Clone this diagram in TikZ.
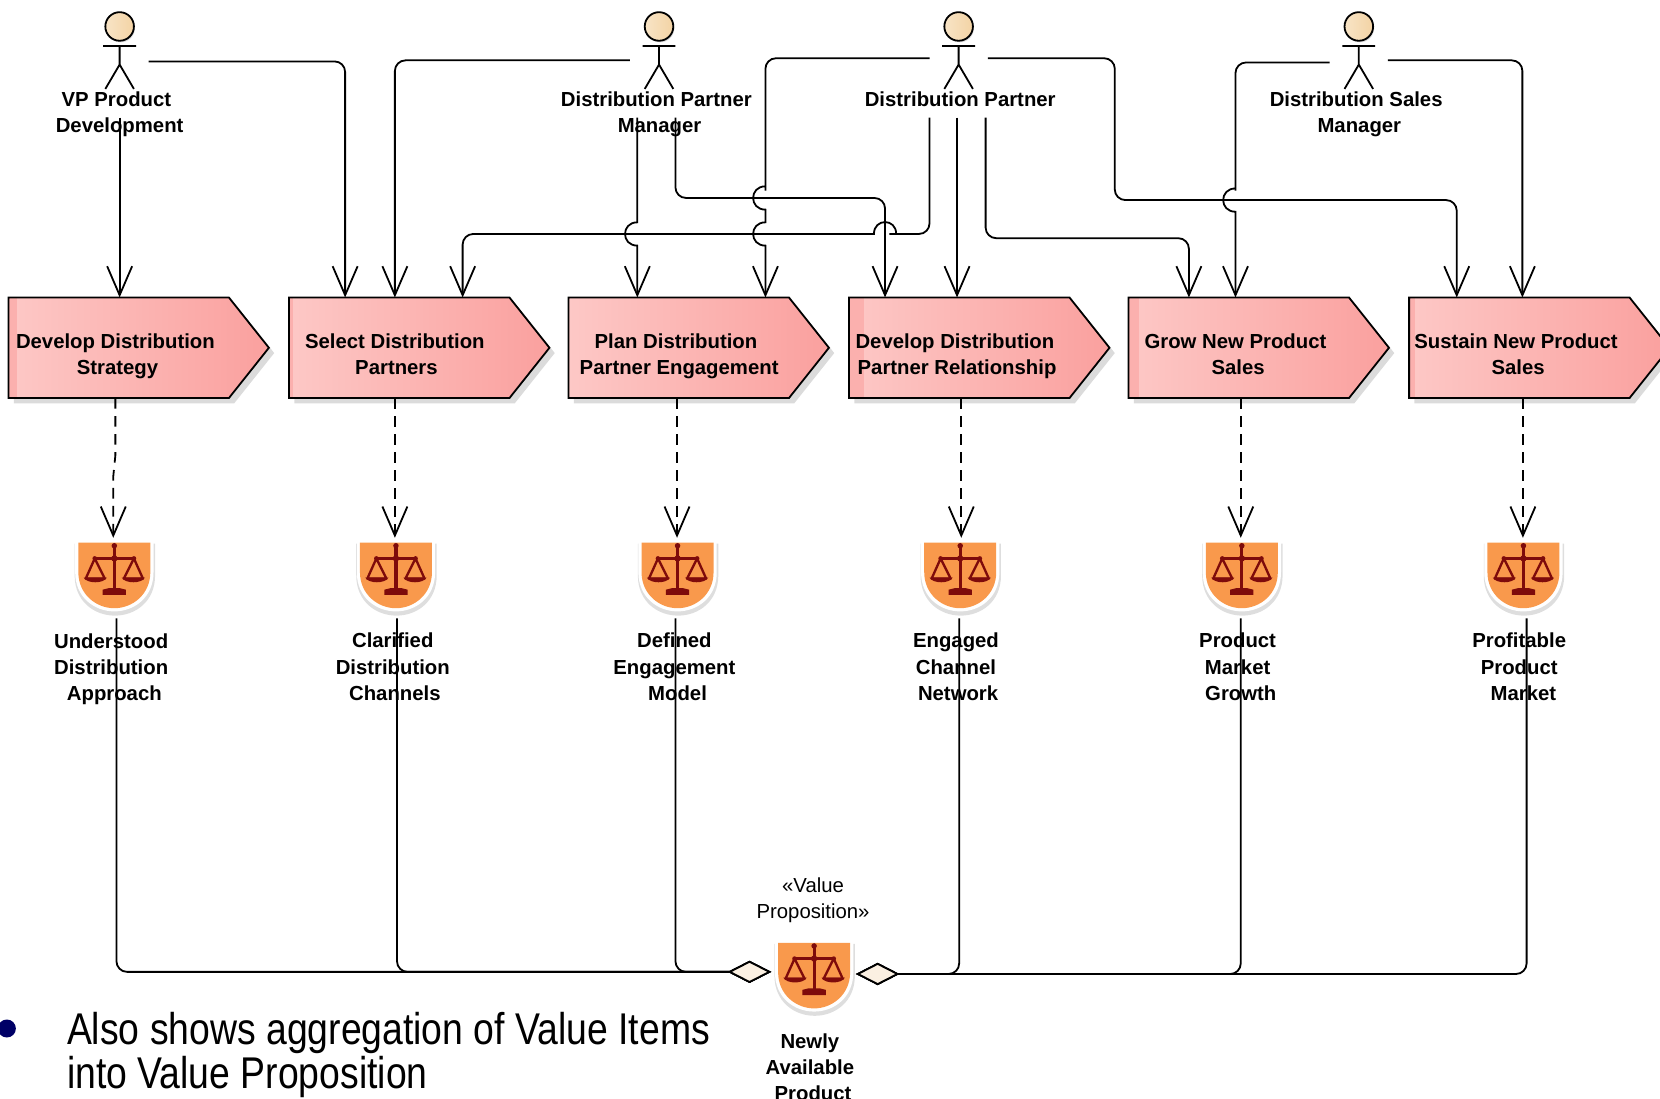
\documentclass[tikz,border=0pt]{standalone}
\usepackage{fontspec}
\setmainfont{Liberation Sans}
\usetikzlibrary{arrows.meta,shapes.symbols,shadows}
\definecolor{chevlight}{HTML}{FDC8C6}
\definecolor{chevdark}{HTML}{FAA09E}
\definecolor{chevstrip}{HTML}{FBB0AE}
\definecolor{scalered}{HTML}{7E0B0B}
\definecolor{shieldorange}{HTML}{F9994C}
\definecolor{diamondfill}{HTML}{FBF0E2}
\definecolor{headlight}{HTML}{F8E4C6}
\definecolor{headdark}{HTML}{F3D3A4}
\newcommand{\boldtext}{\fontsize{9.6}{12.4}\selectfont\bfseries}
\newcommand{\hopv}[2]{[sharp corners] -- (#1,#2-11) .. controls (#1-15.5,#2-11) and (#1-15.5,#2+11) .. (#1,#2+11)}
\newcommand{\hoph}[2]{[sharp corners] -- (#1+10.5,#2) .. controls (#1+10.5,#2-15) and (#1-10.5,#2-15) .. (#1-10.5,#2)}
\newcommand{\shieldpath}[3]{(-#1,-#2) -- (#1,-#2) -- (#1,-3) .. controls (#1,#3-13) and (#1/2,#3) .. (0,#3) .. controls (-#1/2,#3) and (-#1,#3-13) .. (-#1,-3) -- cycle}
\tikzset{
	stick/.pic={
		\fill[black!15] (1,-28.5) circle[radius=13.5];
		\draw[line width=.85pt] (0,-12) -- (0,6) (-15.5,-11.5) -- (15.5,-11.5) (-13.5,29) -- (0,6) -- (13.5,29);
		\draw[line width=.85pt,left color=headlight,right color=headdark] (0,-30) circle[radius=13.5];
	},
	scales/.pic={
		\fill[black!13] [shift={(.5,3)}] \shieldpath{38}{33}{35};
		\fill[white] \shieldpath{37}{34}{34};
		\fill[shieldorange] \shieldpath{34}{31}{31};
		\draw[scalered,line width=1.5pt] (0,-28) -- (0,15);
		\draw[scalered,line width=1.2pt] (-18.5,-16) -- (18.5,-16);
		\draw[scalered,line width=1.1pt,line join=round] (-18.5,-16) -- (-27,3) -- (-9,3) -- cycle (18.5,-16) -- (9,3) -- (27,3) -- cycle;
		\fill[scalered] (-29,2) -- (-7,2) .. controls (-10,8) and (-26,8) .. (-29,2) (7,2) -- (29,2) .. controls (26,8) and (10,8) .. (7,2);
		\fill[scalered] (-11,13.5) -- (-5,12) -- (5,12) -- (11,13.5) -- (11,18.5) -- (-11,18.5) -- cycle (0,-28) circle[radius=2.6] (0,-16) circle[radius=3] (-18.5,-16) circle[radius=2.2] (18.5,-16) circle[radius=2.2];
	}
}
\begin{document}
\begin{tikzpicture}[x=0.5pt,y=-0.5pt,
	chevron/.style={signal,signal to=east,signal pointer angle=103,draw,line width=.85pt,minimum width=123pt,minimum height=47.5pt,inner sep=0pt,outer sep=0pt,anchor=north west,left color=chevlight,right color=chevdark,drop shadow={shadow xshift=2.5pt,shadow yshift=-2.5pt,fill=black!14,opacity=1},path picture={\fill[chevstrip] (path picture bounding box.north west) rectangle ([xshift=#1pt]path picture bounding box.south west);}},
	actor/.style={minimum width=27.5pt,minimum height=56pt,inner sep=0pt,outer sep=0pt},
	value/.style={minimum width=41pt,minimum height=38pt,inner sep=0pt,outer sep=0pt},
	boldlabel/.style={align=center,font=\boldtext,inner sep=0pt},
	flow/.style={-{Straight Barb[length=13.7pt,width=11.8pt]},line width=.85pt,rounded corners=5pt},
	realize/.style={flow,dashed,dash pattern=on 5pt off 3.5pt},
	aggr/.style={-{Diamond[length=20.5pt,width=10.5pt,fill=diamondfill]},line width=.85pt,rounded corners=5pt}]
	\useasboundingbox (0,0) rectangle (1568,1038);

	\node[chevron=4.2] (s1) at (8,281) {};
	\node[chevron=2] (s2) at (273,281) {};
	\node[chevron=0] (s3) at (537,281) {};
	\node[chevron=7] (s4) at (802,281) {};
	\node[chevron=4.7] (s5) at (1066,281) {};
	\node[chevron=3] (s6) at (1331,281) {};
	\node[boldlabel] (c1) at (111,336.5) {Develop Distribution\hspace*{2pt}\\Strategy};
	\node[boldlabel] (c2) at (374.5,334.5) {Select Distribution\hspace*{1.5pt}\\Partners};
	\node[boldlabel] (c3) at (641.5,336.5) {Plan Distribution\hspace*{3pt}\\Partner Engagement};
	\node[boldlabel] (c4) at (904,336.5) {Develop Distribution\hspace*{2pt}\\Partner Relationship};
	\node[boldlabel] (c5) at (1169.5,334.5) {Grow New Product\hspace*{2.5pt}\\Sales};
	\node[boldlabel] (c6) at (1434,334.5) {Sustain New Product\hspace*{2pt}\\Sales};

	\node[actor] (a1) at (113,55) {};
	\node[actor] (a2) at (622.5,55) {};
	\node[actor] (a3) at (905.5,55) {};
	\node[actor] (a4) at (1283.5,55) {};
	\pic at (a1) {stick};
	\pic at (a2) {stick};
	\pic at (a3) {stick};
	\pic at (a4) {stick};
	\node[boldlabel] (t1) at (113,108) {VP Product\hspace*{3pt}\\Development};
	\node[boldlabel] (t2) at (620,108) {Distribution Partner\\\hspace*{3pt}Manager};
	\node[boldlabel] (t3) at (907,94) {Distribution Partner};
	\node[boldlabel] (t4) at (1281,108) {Distribution Sales\\\hspace*{3pt}Manager};

	\node[value] (v1) at (108,546) {};
	\node[value] (v2) at (374,546) {};
	\node[value] (v3) at (640,546) {};
	\node[value] (v4) at (907,546) {};
	\node[value] (v5) at (1173,546) {};
	\node[value] (v6) at (1439,546) {};
	\node[value,minimum width=40pt] (vp) at (768.5,924) {};
	\pic at (108,543.5) {scales};
	\pic at (374,543.5) {scales};
	\pic at (640,543.5) {scales};
	\pic at (907,543.5) {scales};
	\pic at (1173,543.5) {scales};
	\pic at (1439,543.5) {scales};
	\pic at (769,921.5) {scales};
	\node[boldlabel] (n1) at (105,632) {Understood\\Distribution\\\hspace*{3pt}Approach};
	\node[boldlabel] (n2) at (371,630) {Clarified\\Distribution\\\hspace*{2pt}Channels};
	\node[boldlabel] (n3) at (637,630) {Defined\\Engagement\\\hspace*{3pt}Model};
	\node[boldlabel] (n4) at (903,630) {Engaged\\Channel\\\hspace*{2pt}Network};
	\node[boldlabel] (n5) at (1169,630) {Product\\Market\\\hspace*{3pt}Growth};
	\node[boldlabel] (n6) at (1435,630) {Profitable\\Product\\\hspace*{4pt}Market};
	\node[boldlabel] (n7) at (765,1008) {Newly\\Available\\\hspace*{3pt}Product};
	\node[align=center,inner sep=0pt,font=\fontsize{9.6}{12.4}\selectfont] (st) at (768,850.5) {«Value\\Proposition»};

	\draw[flow] (a1.south) -- (113,0 |- s1.north);
	\draw[flow] (a1.east |- 0,58) -- (326,58) -- (326,0 |- s2.north);
	\draw[flow] (a2.west |- 0,57) -- (373,57) -- (373,0 |- s2.north);
	\draw[flow] (878,0 |- a3.south) -- (878,221) -- (850,221) \hoph{836}{221} -- (800,221) [rounded corners=5pt] -- (437,221) -- (437,0 |- s2.north);
	\draw[flow] (602,0 |- a2.south) \hopv{602}{221} -- (602,0 |- s3.north);
	\draw[flow] (a3.west |- 0,55) -- (723,55) -- (723,170) \hopv{723}{187} \hopv{723}{221} -- (723,0 |- s3.north);
	\draw[flow] (638,0 |- a2.south) -- (638,187) -- (836,187) -- (836,0 |- s4.north);
	\draw[flow] (a3.south) ++(-1.5,0) -- (904,0 |- s4.north);
	\draw[flow] (931,0 |- a3.south) -- (931,225) -- (1123,225) -- (1123,0 |- s5.north);
	\draw[flow] (a3.east |- 0,55) -- (1053,55) -- (1053,189) -- (1376,189) -- (1376,0 |- s6.north);
	\draw[flow] (a4.west |- 0,59) -- (1167,59) -- (1167,170) \hopv{1167}{189} -- (1167,0 |- s5.north);
	\draw[flow] (a4.east |- 0,57) -- (1438,57) -- (1438,0 |- s6.north);

	\draw[realize,rounded corners=0pt] (109,0 |- s1.south) -- (109,430) -- (107,450) -- (107,0 |- v1.north);
	\draw[realize] (373,0 |- s2.south) -- (373,0 |- v2.north);
	\draw[realize] (639.5,0 |- s3.south) -- (639.5,0 |- v3.north);
	\draw[realize] (908,0 |- s4.south) -- (908,0 |- v4.north);
	\draw[realize] (1172,0 |- s5.south) -- (1172,0 |- v5.north);
	\draw[realize] (1438.5,0 |- s6.south) -- (1438.5,0 |- v6.north);

	\draw[aggr] (110,0 |- v1.south) |- (vp.west |- 0,918);
	\draw[aggr] (375,0 |- v2.south) |- (vp.west |- 0,918);
	\draw[aggr] (638,0 |- v3.south) |- (vp.west |- 0,918);
	\draw[aggr] (906,0 |- v4.south) |- (vp.east |- 0,920);
	\draw[aggr] (1172,0 |- v5.south) |- (vp.east |- 0,920);
	\draw[aggr] (1442,0 |- v6.south) |- (vp.east |- 0,920);

	\node[circle,fill=blue!40!black,minimum size=8.5pt,inner sep=0pt] (dot) at (6.5,971.5) {};
	\node[anchor=north west,align=left,inner sep=0pt,xscale=.84,font=\fontsize{21}{20.5}\selectfont] (note) at (63,956) {Also shows aggregation of Value Items\\into Value Proposition};
\end{tikzpicture}
\end{document}
